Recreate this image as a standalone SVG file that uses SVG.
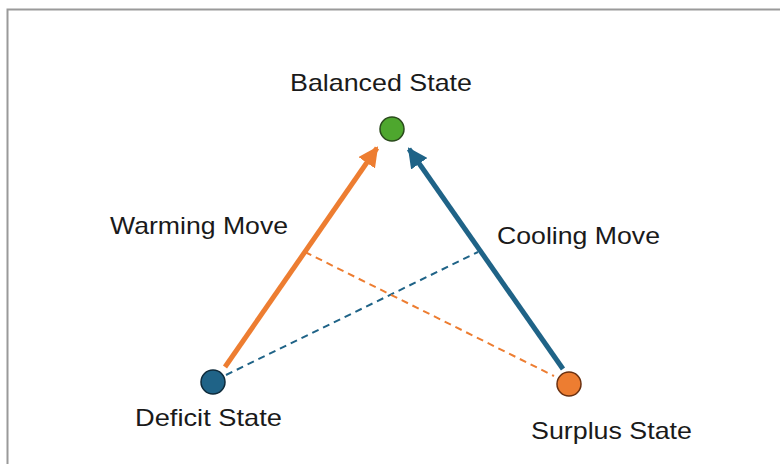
<svg xmlns="http://www.w3.org/2000/svg" width="780" height="464" viewBox="0 0 780 464">
<defs>
<style>
.lbl{font-family:"Liberation Sans",Arial,sans-serif;font-size:24px;fill:#1a1a1a}
.node{stroke-width:1.5}
</style>
<marker id="ao" viewBox="0 0 10 10" refX="9" refY="5" markerWidth="4" markerHeight="4" orient="auto" markerUnits="strokeWidth"><path d="M0,0 L10,5 L0,10 z" fill="#ed7d31"/></marker>
<marker id="ab" viewBox="0 0 10 10" refX="9" refY="5" markerWidth="4" markerHeight="4" orient="auto" markerUnits="strokeWidth"><path d="M0,0 L10,5 L0,10 z" fill="#1f6387"/></marker>
</defs>
<rect width="780" height="464" fill="#fff"/>
<path d="M7.5,464 V9.5 H780" fill="none" stroke="#9a9a9a" stroke-width="2"/>
<g id="connectors">
<line x1="226" y1="375" x2="478" y2="252" stroke="#1f6387" stroke-width="2" stroke-dasharray="7,5"/>
<line x1="305" y1="252" x2="554" y2="376" stroke="#ed7d31" stroke-width="2" stroke-dasharray="7,5"/>
<line x1="225" y1="367" x2="377" y2="148" stroke="#ed7d31" stroke-width="5" marker-end="url(#ao)"/>
<line x1="563" y1="369" x2="409" y2="149" stroke="#1f6387" stroke-width="5" marker-end="url(#ab)"/>
</g>
<g id="balanced">
<circle class="node" cx="392" cy="129" r="12" fill="#4ea72e" stroke="#2a4a1c"/>
<text class="lbl" x="290" y="91" textLength="182" lengthAdjust="spacingAndGlyphs">Balanced State</text>
</g>
<g id="deficit">
<circle class="node" cx="213" cy="382" r="12" fill="#1f6387" stroke="#0e2a3a"/>
<text class="lbl" x="135" y="426" textLength="147" lengthAdjust="spacingAndGlyphs">Deficit State</text>
</g>
<g id="surplus">
<circle class="node" cx="569" cy="384" r="12" fill="#ed7d31" stroke="#6a3010"/>
<text class="lbl" x="531" y="439" textLength="161" lengthAdjust="spacingAndGlyphs">Surplus State</text>
</g>
<g id="warming">
<text class="lbl" x="110" y="234" textLength="178" lengthAdjust="spacingAndGlyphs">Warming Move</text>
</g>
<g id="cooling">
<text class="lbl" x="497" y="244" textLength="163" lengthAdjust="spacingAndGlyphs">Cooling Move</text>
</g>
</svg>
